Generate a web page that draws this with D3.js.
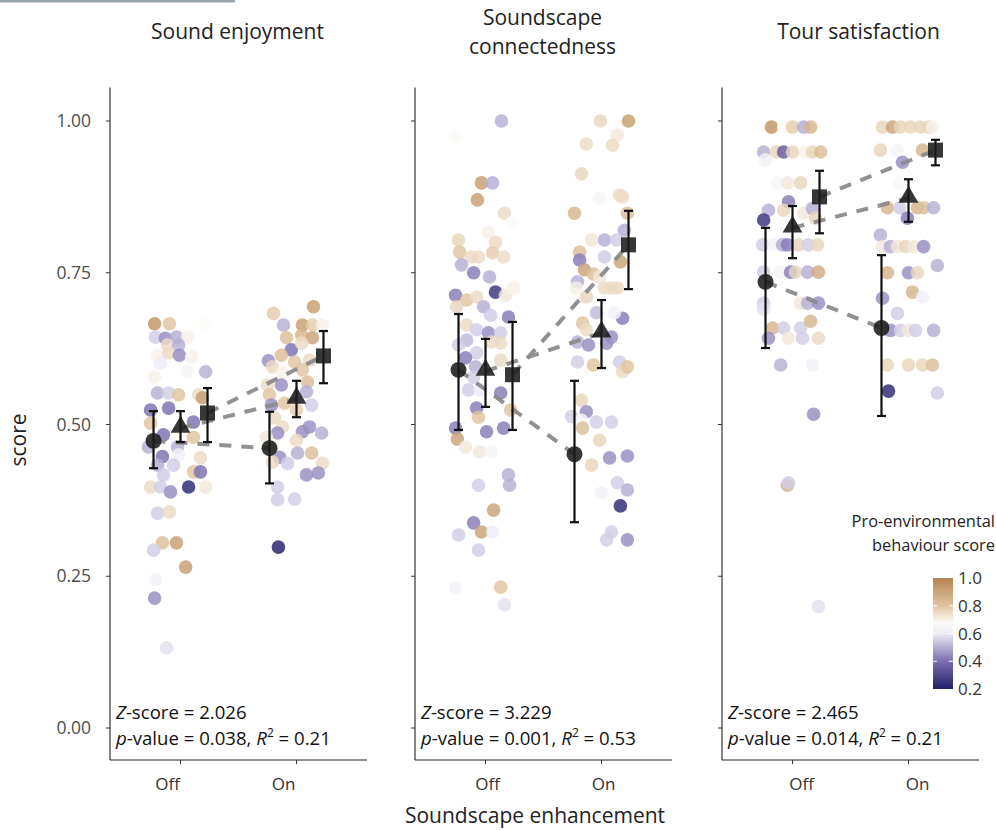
<!DOCTYPE html>
<html>
<head>
<meta charset="utf-8">
<script src="https://cdn.jsdelivr.net/npm/d3@7"></script>
<style>
  body { margin: 0; background: #fff; }
  svg { font-family: "Open Sans", "Noto Sans", sans-serif; }
</style>
</head>
<body>
<svg id="chart" width="996" height="830"></svg>
<script>
// panels and categories
const panels = ['Sound enjoyment', 'Soundscape\nconnectedness', 'Tour satisfaction']
const conditions = ['Off', 'On']
const groups = ['circle', 'triangle', 'square']
const yTicks = [0, 0.25, 0.5, 0.75, 1.0]
const legendTicks = [0.2, 0.4, 0.6, 0.8, 1.0]
const stats = [
  ['2.026', '0.038', '0.21'],
  ['3.229', '0.001', '0.53'],
  ['2.465', ' 0.014', '0.21']
]

// group means with error bars: [mean, low, high], per panel -> condition -> group
const means = [
  { Off: [[0.473, 0.428, 0.522], [0.494, 0.471, 0.522], [0.519, 0.471, 0.560]],
    On:  [[0.461, 0.403, 0.521], [0.542, 0.512, 0.572], [0.613, 0.568, 0.654]] },
  { Off: [[0.590, 0.491, 0.682], [0.588, 0.529, 0.641], [0.582, 0.491, 0.669]],
    On:  [[0.451, 0.339, 0.572], [0.651, 0.593, 0.705], [0.796, 0.723, 0.852]] },
  { Off: [[0.735, 0.626, 0.824], [0.824, 0.774, 0.860], [0.875, 0.815, 0.918]],
    On:  [[0.659, 0.514, 0.779], [0.873, 0.834, 0.904], [0.952, 0.927, 0.969]] }
]

// raw responses: [jitter (dodge units), score, pro-environmental score]
const soundOff = [
  [-0.96,.666,.95],[-0.41,.666,.8],[0.93,.666,.68],[-0.93,.644,.55],[-0.56,.642,.45],[-0.15,.644,.5],
  [0.26,.644,.7],[-0.48,.631,.75],[-0.07,.631,.5],[-0.85,.614,.7],[-0.44,.618,.75],[-0.04,.614,.45],
  [0.41,.611,.7],[-0.74,.601,.6],[0.93,.587,.5],[0.26,.587,.65],[-0.96,.578,.7],[-0.85,.552,.5],
  [-0.44,.552,.55],[-0.07,.549,.8],[0.67,.549,.75],[0.81,.544,.92],[-1.11,.524,.4],[-0.44,.527,.4],
  [-1.11,.502,.8],[-0.63,.483,.4],[0.48,.504,.4],[0.48,.479,.8],[-1.19,.463,.5],[-0.11,.463,.5],
  [-0.67,.447,.4],[-0.07,.450,.62],[0.74,.445,.75],[-0.85,.433,.5],[-0.26,.433,.55],[-0.63,.417,.55],
  [0.48,.422,.8],[0.74,.422,.4],[-1.11,.397,.75],[-0.74,.397,.55],[-0.37,.389,.45],[0.30,.397,.22],
  [0.93,.397,.72],[-0.85,.354,.55],[-0.41,.356,.75],[-0.67,.305,.82],[-0.15,.305,.92],[-1.0,.293,.55],
  [0.19,.265,.92],[-0.93,.244,.63],[-0.96,.214,.45],[-0.52,.132,.58]
]
const soundOn = [
  [0.63,.694,.92],[-0.85,.683,.78],[-0.48,.664,.5],[0.22,.664,.92],[0.59,.664,.78],[0.96,.664,.7],
  [-0.37,.643,.82],[0.19,.647,.85],[0.59,.643,.9],[-0.19,.623,.4],[0.19,.634,.75],[-0.56,.614,.82],
  [-1.04,.605,.45],[-0.07,.603,.8],[0.48,.606,.75],[-0.89,.595,.75],[-0.52,.585,.7],[0.22,.590,.8],
  [0.41,.570,.82],[-1.07,.565,.75],[-0.56,.565,.45],[-1.0,.549,.8],[0.37,.554,.5],[0.56,.532,.55],
  [-0.93,.532,.45],[-0.44,.535,.8],[0,.524,.78],[-0.81,.511,.75],[-0.52,.496,.75],[0.22,.488,.45],
  [0.48,.496,.45],[0.93,.486,.5],[-0.70,.486,.45],[0,.474,.75],[-1.11,.479,.72],[-0.89,.463,.72],
  [-0.63,.446,.45],[0.04,.453,.5],[0.56,.453,.82],[0.96,.436,.75],[-0.33,.436,.55],[-0.89,.438,.75],
  [0.37,.417,.45],[0.81,.420,.45],[-0.70,.397,.55],[-0.70,.376,.55],[-0.07,.377,.55],[-0.67,.298,.2]
]
const connOff = [
  [0.59,1.0,.5],[-1.11,.974,.68],[-0.15,.898,.92],[0.26,.898,.5],[-0.30,.870,.92],[0.70,.848,.75],
  [0.96,.832,.68],[0.11,.817,.7],[-1.0,.804,.76],[0.37,.800,.75],[-0.96,.784,.8],[-0.52,.776,.75],
  [-0.26,.776,.75],[0.26,.783,.78],[0.67,.776,.75],[-0.89,.763,.5],[-0.44,.750,.42],[0.15,.743,.5],
  [-1.11,.713,.42],[-0.70,.705,.8],[-0.33,.710,.75],[0.37,.718,.25],[0.74,.713,.72],[1.04,.725,.7],
  [-1.07,.694,.76],[-0.07,.694,.5],[0.19,.680,.55],[0.85,.677,.42],[-0.70,.664,.75],[-0.33,.656,.55],
  [0.11,.651,.45],[0.56,.651,.55],[-0.70,.639,.52],[0.22,.636,.75],[0.56,.634,.75],[-1.0,.631,.55],
  [-0.33,.618,.55],[-0.74,.610,.42],[0.56,.606,.75],[-0.37,.595,.5],[-0.44,.578,.55],[-0.63,.557,.55],
  [-0.19,.557,.6],[0.56,.552,.42],[-0.33,.527,.42],[0.93,.524,.8],[-0.26,.512,.8],[-1.11,.494,.42],
  [0.04,.488,.42],[0.67,.494,.42],[-1.04,.476,.9],[-0.74,.463,.72],[-0.22,.455,.72],[0.22,.455,.65],
  [0.85,.417,.5],[-0.26,.400,.55],[0.89,.400,.5],[0.30,.359,.9],[-0.44,.338,.42],[-0.15,.323,.9],
  [-1.0,.318,.55],[0.26,.323,.6],[-0.26,.293,.55],[-1.11,.231,.63],[0.56,.232,.8],[0.70,.203,.58]
]
const connOn = [
  [-0.04,1.0,.76],[1.0,1.0,.92],[0.59,.977,.72],[-0.56,.962,.75],[0.41,.960,.75],[-0.74,.913,.76],
  [-0.07,.873,.65],[0.67,.878,.75],[0.78,.875,.75],[-1.0,.848,.85],[0.96,.848,.82],[-0.37,.804,.72],
  [0.11,.804,.5],[0.56,.804,.55],[0.85,.820,.5],[-0.81,.784,.82],[0.11,.776,.55],[-0.81,.771,.42],
  [-0.63,.755,.9],[-0.30,.748,.82],[0.70,.768,.9],[-0.89,.735,.5],[-0.07,.743,.72],[-0.93,.725,.7],
  [0.11,.725,.75],[0.37,.725,.75],[0.59,.725,.75],[-0.56,.710,.76],[0.78,.675,.42],[0.48,.684,.63],
  [-0.19,.684,.52],[-0.70,.667,.8],[-0.56,.656,.75],[-0.89,.636,.5],[-0.48,.631,.45],[0.19,.634,.45],
  [0.37,.644,.45],[-0.89,.603,.55],[-0.30,.598,.8],[0.67,.603,.55],[0.78,.587,.75],[0.96,.595,.8],
  [-0.74,.540,.76],[-0.56,.521,.45],[-1.11,.513,.55],[-0.74,.507,.65],[-0.19,.504,.55],[0.37,.504,.55],
  [-0.70,.494,.82],[-0.07,.474,.76],[0.30,.445,.45],[0.96,.448,.45],[-0.37,.433,.76],[0.59,.404,.55],
  [0.96,.392,.5],[0,.387,.63],[0.70,.366,.22],[0.37,.323,.55],[0.96,.310,.45],[0.19,.310,.55]
]
const tourOff = [
  [-0.78,.99,.95],[-0.33,.99,.68],[0,.99,.78],[0.41,.99,.5],[0.67,.99,.85],
  [-1.07,.949,.5],[-0.59,.949,.76],[-0.33,.949,.35],[0,.949,.76],[0.48,.949,.7],[0.74,.949,.76],[1.04,.949,.82],
  [-1.0,.936,.62],[-0.56,.898,.66],[-0.19,.898,.72],[0.30,.898,.76],[0.85,.898,.68],[-0.15,.867,.42],
  [-0.89,.853,.5],[-0.33,.853,.76],[0.41,.848,.72],[0.74,.856,.5],[-1.07,.837,.25],[0.85,.840,.76],
  [-1.11,.796,.55],[-0.70,.796,.63],[-0.37,.796,.5],[-0.19,.796,.42],[0.22,.796,.76],[0.59,.796,.55],[0.93,.796,.76],
  [-1.07,.751,.55],[-0.44,.751,.65],[-0.07,.751,.42],[0.11,.751,.76],[0.56,.751,.5],[0.96,.751,.88],
  [-1.07,.700,.55],[0.30,.700,.72],[0.56,.700,.5],[0.96,.700,.45],[-1.07,.690,.58],
  [-0.74,.659,.85],[-0.33,.659,.55],[0.30,.659,.55],[0.67,.670,.85],
  [-0.89,.642,.45],[-0.15,.642,.72],[0.37,.642,.55],[0.96,.642,.75],
  [-0.44,.598,.5],[0.74,.598,.63],[0.78,.517,.45],[-0.19,.400,.85],[-0.15,.404,.55],[0.96,.200,.58]
]
const tourOn = [
  [-0.96,.99,.76],[-0.59,.99,.9],[-0.30,.99,.76],[0.07,.99,.76],[0.44,.99,.76],[0.74,.99,.76],[0.89,.99,.7],
  [-1.04,.952,.76],[-0.41,.952,.64],[0.52,.952,.85],[-0.22,.932,.45],[-0.30,.898,.66],
  [-0.78,.857,.85],[-0.33,.857,.55],[0.33,.857,.85],[0.56,.857,.82],[0.93,.857,.5],[-0.04,.840,.42],
  [-1.04,.812,.5],[-0.96,.793,.72],[-0.67,.793,.5],[-0.41,.793,.72],[-0.11,.793,.76],[0.19,.793,.72],[0.56,.793,.45],
  [1.07,.762,.5],[-0.78,.750,.85],[0,.750,.45],[0.33,.750,.76],[0.15,.718,.85],[0.52,.710,.62],
  [-0.96,.708,.45],[-0.41,.683,.55],[-0.67,.655,.45],[-0.30,.655,.55],[0,.655,.72],[0.26,.655,.55],[0.93,.655,.5],
  [-0.78,.598,.76],[0,.598,.76],[0.52,.598,.76],[0.89,.598,.82],[-0.74,.555,.22],[1.07,.552,.55]
]
const points = [
  { Off: soundOff, On: soundOn },
  { Off: connOff, On: connOn },
  { Off: tourOff, On: tourOn }
]

const svg = d3.select('#chart')
const panelX = [110, 415, 722]
const panelW = 257
const labelShift = [-13, 2, 9]   // x labels / titles sit a bit off centre in the original
const titleShift = [0, 0, 9]

const y = d3.scaleLinear().domain([0, 1]).range([728, 121])
const x = d3.scalePoint().domain(conditions).range([0, panelW]).padding(0.608)
const dodge = d3.scaleLinear().domain([-1, 1]).range([-27, 27])
const color = d3.scaleLinear()
  .domain([0.2, 0.4, 0.6, 0.68, 0.8, 1.0])
  .range(['#231f6c', '#7a6fb0', '#eeecf5', '#fbfaf7', '#dfc4a0', '#b5844f'])
  .clamp(true)
const bottomY = 760

// thin grey rule at the top-left edge
svg.append('rect').attr('x', 0).attr('y', 0).attr('width', 235).attr('height', 2.5).attr('fill', '#9aa6ae')

panels.forEach((title, p) => {
  const g = svg.append('g').attr('transform', `translate(${panelX[p]},0)`)

  // title
  const lines = title.split('\n')
  const t = g.append('text').attr('text-anchor', 'middle')
    .attr('font-size', 21).attr('fill', '#222')
  lines.forEach((ln, i) => {
    t.append('tspan').attr('x', panelW / 2 - 1 + titleShift[p])
      .attr('y', lines.length === 1 ? 39 : 25 + i * 29).text(ln)
  })

  // axes
  g.append('line').attr('x1', 0).attr('x2', 0).attr('y1', y(1.055)).attr('y2', bottomY)
    .attr('stroke', '#222').attr('stroke-width', 1.1)
  g.append('line').attr('x1', 0).attr('x2', panelW).attr('y1', bottomY).attr('y2', bottomY)
    .attr('stroke', '#222').attr('stroke-width', 1.1)
  g.selectAll('.ytick').data(yTicks).enter().append('line')
    .attr('x1', -4).attr('x2', 0).attr('y1', d => y(d)).attr('y2', d => y(d))
    .attr('stroke', '#333')
  if (p === 0) {
    g.selectAll('.ylab').data(yTicks).enter().append('text')
      .attr('x', -19).attr('y', d => y(d) + 6).attr('text-anchor', 'end')
      .attr('font-size', 17.5).attr('fill', '#4d4d4d').text(d => d.toFixed(2))
  }
  g.selectAll('.xtick').data(conditions).enter().append('line')
    .attr('x1', d => x(d)).attr('x2', d => x(d)).attr('y1', bottomY).attr('y2', bottomY + 4)
    .attr('stroke', '#333')
  g.selectAll('.xlab').data(conditions).enter().append('text')
    .attr('x', d => x(d) + labelShift[p]).attr('y', 790).attr('text-anchor', 'middle')
    .attr('font-size', 17).attr('fill', '#333').text(d => d)

  // raw points
  conditions.forEach(c => {
    g.selectAll(null).data(points[p][c]).enter().append('circle')
      .attr('cx', d => x(c) + dodge(d[0]))
      .attr('cy', d => y(d[1]))
      .attr('r', 6.8)
      .attr('fill', d => color(d[2]))
      .attr('fill-opacity', 0.82)
  })

  // dashed trend lines between conditions
  groups.forEach((grp, k) => {
    const off = k - 1
    g.append('line')
      .attr('x1', x('Off') + dodge(off)).attr('y1', y(means[p].Off[k][0]))
      .attr('x2', x('On') + dodge(off)).attr('y2', y(means[p].On[k][0]))
      .attr('stroke', '#8c8c8c').attr('stroke-width', 4).attr('stroke-dasharray', '12 10')
      .attr('opacity', 0.95)
  })

  // error bars + markers
  conditions.forEach(c => {
    groups.forEach((grp, k) => {
      const [m, lo, hi] = means[p][c][k]
      const cx = x(c) + dodge(k - 1)
      g.append('line').attr('x1', cx).attr('x2', cx).attr('y1', y(lo)).attr('y2', y(hi))
        .attr('stroke', '#111').attr('stroke-width', 2.2)
      ;[lo, hi].forEach(v => {
        g.append('line').attr('x1', cx - 4.5).attr('x2', cx + 4.5).attr('y1', y(v)).attr('y2', y(v))
          .attr('stroke', '#111').attr('stroke-width', 2.2)
      })
      const sym = grp === 'circle' ? d3.symbolCircle : grp === 'triangle' ? d3.symbolTriangle : d3.symbolSquare
      const size = grp === 'circle' ? 200 : grp === 'triangle' ? 170 : 225
      g.append('path').attr('d', d3.symbol(sym, size)())
        .attr('transform', `translate(${cx},${y(m) + (grp === 'triangle' ? -1 : 0)})`)
        .attr('fill', '#1b1b1b').attr('fill-opacity', 0.88)
    })
  })

  // statistics
  const s = stats[p]
  const l1 = g.append('text').attr('x', 6).attr('y', 719).attr('font-size', 18.6).attr('fill', '#111')
  l1.append('tspan').attr('font-style', 'italic').text('Z')
  l1.append('tspan').text(`-score = ${s[0]}`)
  const l2 = g.append('text').attr('x', 6).attr('y', 745).attr('font-size', 18.6).attr('fill', '#111')
  l2.append('tspan').attr('font-style', 'italic').text('p')
  l2.append('tspan').text(`-value = ${s[1]}, `)
  l2.append('tspan').attr('font-style', 'italic').text('R')
  l2.append('tspan').attr('font-size', 12).attr('dy', -8).text('2')
  l2.append('tspan').attr('dy', 8).text(` = ${s[2]}`)
})

// axis titles
svg.append('text').attr('transform', 'translate(26,440) rotate(-90)').attr('text-anchor', 'middle')
  .attr('font-size', 21).attr('fill', '#222').text('score')
svg.append('text').attr('x', 535).attr('y', 823).attr('text-anchor', 'middle')
  .attr('font-size', 21).attr('fill', '#222').text('Soundscape enhancement')

// colour legend
const leg = svg.append('g')
leg.append('text').attr('x', 995).attr('y', 527).attr('text-anchor', 'end')
  .attr('font-size', 16.4).attr('fill', '#222').text('Pro-environmental')
leg.append('text').attr('x', 995).attr('y', 551).attr('text-anchor', 'end')
  .attr('font-size', 16.4).attr('fill', '#222').text('behaviour score')

const ly = d3.scaleLinear().domain([0.2, 1.0]).range([689, 578])
const grad = svg.append('defs').append('linearGradient').attr('id', 'pe-grad')
  .attr('x1', 0).attr('y1', 1).attr('x2', 0).attr('y2', 0)
d3.range(0, 1.0001, 0.05).forEach(f => {
  grad.append('stop').attr('offset', f).attr('stop-color', color(0.2 + 0.8 * f))
})
leg.append('rect').attr('x', 933).attr('y', ly(1.0)).attr('width', 20).attr('height', ly(0.2) - ly(1.0))
  .attr('fill', 'url(#pe-grad)')
leg.selectAll('.lt').data(legendTicks).enter().append('g').each(function (d) {
  const gg = d3.select(this)
  if (d > 0.2 && d < 1.0) {
    gg.append('line').attr('x1', 933).attr('x2', 937).attr('y1', ly(d)).attr('y2', ly(d)).attr('stroke', '#fff')
    gg.append('line').attr('x1', 949).attr('x2', 953).attr('y1', ly(d)).attr('y2', ly(d)).attr('stroke', '#fff')
  }
  gg.append('text').attr('x', 958).attr('y', ly(d) + 6).attr('font-size', 17).attr('fill', '#333')
    .text(d.toFixed(1))
})
</script>
</body>
</html>
